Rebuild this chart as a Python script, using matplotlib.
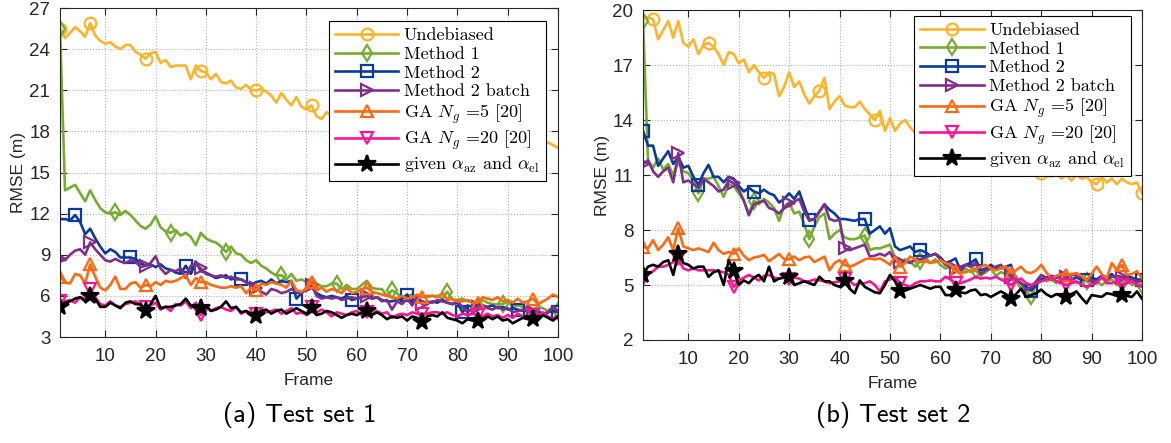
import matplotlib
matplotlib.use("Agg")
import matplotlib.pyplot as plt

plt.rcParams['mathtext.fontset'] = 'cm'
plt.rcParams['font.family'] = ['Liberation Sans', 'DejaVu Sans']

frames = list(range(1, 101))

labels = ["Undebiased", "Method 1", "Method 2", "Method 2 batch",
          r"GA $N_g$ =5 [20]", r"GA $N_g$ =20 [20]",
          r"given $\alpha_{\rm az}$ and $\alpha_{\rm el}$"]

# ---- test set 1
undeb_1 = [25.5, 24.8, 25.2, 25.6, 25.3, 24.9, 25.9, 25.0, 24.6, 24.4,
           24.5, 24.2, 24.0, 24.3, 24.3, 23.8, 23.6, 23.3, 23.7, 23.8,
           23.0, 23.2, 22.7, 22.8, 22.8, 22.8, 21.8, 22.8, 22.4, 22.3,
           21.8, 22.2, 21.6, 21.5, 21.7, 21.2, 21.1, 21.4, 21.0, 21.0,
           21.1, 20.9, 20.6, 20.1, 20.8, 20.3, 19.9, 20.5, 19.8, 19.6,
           19.9, 19.1, 18.9, 19.4, 19.1, 18.8, 19.0, 18.6, 18.9, 18.5,
           18.7, 18.4, 18.6, 18.2, 18.5, 18.1, 18.3, 18.0, 18.2, 17.8,
           18.1, 17.9, 17.7, 17.9, 17.6, 17.8, 17.5, 17.7, 17.4, 17.6,
           17.3, 17.5, 17.2, 17.4, 17.1, 17.3, 17.0, 17.2, 17.0, 17.1,
           16.9, 17.1, 16.8, 17.0, 16.9, 17.1, 16.9, 17.2, 17.0, 16.8]
m1_1 = [25.5, 13.7, 13.9, 14.1, 13.5, 12.9, 13.7, 13.0, 12.4, 12.1,
        12.0, 12.1, 11.9, 12.2, 11.9, 11.5, 11.1, 10.9, 11.2, 11.8,
        11.0, 10.7, 10.6, 10.8, 10.4, 10.6, 10.3, 9.7, 10.6, 10.2,
        10.0, 9.9, 9.6, 9.2, 9.6, 9.1, 9.0, 8.6, 8.4, 8.6,
        8.2, 8.0, 7.7, 7.5, 7.5, 7.2, 7.6, 7.1, 7.2, 7.0,
        7.3, 6.9, 6.7, 6.7, 6.9, 6.9, 6.5, 6.8, 6.5, 6.5,
        6.8, 7.1, 6.6, 6.5, 6.5, 6.0, 6.4, 6.2, 5.8, 6.0,
        6.1, 5.8, 6.0, 5.9, 6.0, 6.0, 5.8, 6.3, 5.7, 5.7,
        5.8, 5.6, 5.6, 5.5, 5.7, 5.5, 5.4, 5.4, 5.4, 5.6,
        5.2, 5.3, 5.2, 5.1, 5.0, 5.2, 5.1, 4.9, 5.2, 4.9]
m2_1 = [11.6, 11.6, 11.5, 11.9, 11.4, 10.5, 10.9, 10.2, 9.6, 9.1,
        9.4, 9.2, 8.8, 8.8, 8.8, 8.7, 8.4, 8.2, 8.3, 8.1,
        8.3, 8.0, 7.9, 7.7, 7.6, 8.2, 7.6, 8.5, 7.8, 7.7,
        7.5, 7.3, 7.4, 7.5, 7.2, 7.3, 7.2, 7.0, 6.8, 7.0,
        7.1, 6.9, 7.2, 6.9, 7.1, 7.0, 7.1, 5.8, 6.2, 6.5,
        6.7, 6.2, 6.0, 5.9, 6.0, 5.9, 5.8, 6.0, 5.7, 5.8,
        5.9, 6.0, 5.8, 5.9, 5.7, 5.6, 5.6, 5.7, 5.8, 6.1,
        5.5, 5.8, 5.6, 5.4, 5.6, 5.5, 5.7, 5.5, 5.4, 5.5,
        4.8, 5.3, 5.2, 5.4, 5.3, 5.2, 5.3, 5.1, 5.2, 5.0,
        5.1, 5.0, 4.9, 4.9, 4.8, 4.9, 4.7, 4.8, 4.9, 4.8]
m2b_1 = [8.7, 8.6, 9.0, 9.3, 9.4, 9.0, 9.9, 9.4, 9.0, 8.6,
         8.5, 8.7, 8.5, 8.4, 8.6, 8.5, 8.1, 8.2, 8.4, 8.9,
         8.0, 7.6, 7.9, 7.8, 8.0, 7.3, 8.2, 8.3, 8.0, 7.6,
         7.5, 7.4, 7.5, 7.3, 7.4, 7.2, 7.2, 7.0, 6.8, 6.6,
         6.3, 6.1, 6.5, 6.4, 6.2, 6.3, 6.5, 6.3, 6.2, 6.6,
         6.8, 6.0, 5.8, 5.9, 5.8, 5.9, 5.7, 5.8, 5.9, 5.8,
         5.9, 6.0, 5.8, 5.9, 5.6, 5.7, 5.0, 5.6, 5.4, 5.8,
         5.3, 5.9, 5.4, 5.6, 5.5, 5.7, 5.6, 5.5, 5.4, 5.6,
         5.2, 4.8, 5.1, 5.2, 5.3, 5.1, 5.0, 5.2, 5.0, 5.1,
         4.8, 4.9, 5.0, 4.9, 4.8, 4.7, 4.6, 4.8, 5.2, 4.9]
ga5_1 = [7.4, 7.0, 6.9, 7.6, 7.5, 6.9, 8.3, 7.4, 6.6, 6.4,
         6.8, 7.4, 6.5, 6.5, 6.9, 7.0, 6.6, 6.8, 6.7, 7.0,
         6.8, 7.1, 7.0, 7.1, 7.3, 7.5, 6.8, 7.3, 7.0, 7.0,
         6.8, 6.7, 6.6, 6.6, 6.7, 6.6, 6.7, 6.2, 6.6, 6.4,
         6.9, 6.8, 7.0, 6.9, 6.8, 6.6, 7.1, 6.4, 6.3, 6.5,
         7.0, 6.4, 6.6, 6.3, 6.5, 6.4, 6.2, 6.6, 6.2, 6.3,
         6.5, 6.6, 6.3, 6.2, 6.1, 6.0, 5.9, 5.8, 6.0, 5.8,
         5.9, 6.1, 5.9, 6.0, 6.0, 5.9, 6.2, 5.7, 5.8, 5.6,
         5.6, 5.7, 5.5, 5.5, 5.9, 5.8, 5.7, 5.9, 5.6, 5.7,
         5.5, 5.8, 5.5, 5.6, 5.8, 5.4, 5.6, 5.8, 6.1, 5.9]
ga20_1 = [5.6, 5.6, 5.7, 5.5, 5.9, 5.8, 6.5, 5.9, 5.4, 5.3,
          5.6, 5.3, 5.2, 5.4, 5.5, 5.6, 5.3, 5.2, 5.3, 5.5,
          5.0, 5.2, 4.9, 5.4, 5.3, 5.6, 5.1, 5.5, 4.6, 5.2,
          4.9, 5.1, 5.2, 5.0, 4.9, 5.2, 4.7, 4.9, 4.6, 4.7,
          5.0, 4.8, 4.9, 5.0, 4.7, 4.9, 5.1, 4.7, 4.8, 4.6,
          5.2, 4.8, 5.0, 4.8, 4.5, 4.8, 4.7, 4.6, 4.8, 4.9,
          4.6, 4.8, 4.7, 4.9, 4.7, 4.8, 4.4, 4.6, 4.7, 4.6,
          4.8, 4.7, 4.7, 4.7, 4.8, 4.8, 4.7, 4.8, 4.6, 4.5,
          4.7, 4.6, 4.7, 4.6, 4.5, 4.7, 4.5, 4.6, 4.4, 4.6,
          4.4, 4.7, 4.5, 4.4, 4.6, 4.5, 4.8, 4.5, 4.3, 4.6]
true_1 = [5.2, 5.5, 5.6, 5.8, 5.9, 5.6, 6.0, 5.8, 5.2, 5.2,
          5.5, 5.3, 5.1, 5.5, 5.6, 5.4, 5.4, 4.9, 5.4, 6.0,
          5.1, 5.2, 5.2, 5.3, 5.4, 5.8, 5.3, 5.1, 5.1, 5.3,
          4.9, 5.0, 5.2, 5.6, 5.1, 5.2, 4.8, 4.9, 4.7, 4.5,
          4.9, 5.0, 4.7, 4.9, 5.0, 4.7, 4.9, 5.1, 4.9, 4.7,
          5.1, 4.6, 4.7, 4.9, 4.8, 4.6, 4.4, 4.6, 4.7, 4.6,
          4.8, 4.9, 4.6, 4.8, 4.6, 4.3, 4.5, 4.4, 4.5, 4.2,
          4.5, 4.4, 4.1, 4.5, 4.6, 4.5, 4.8, 4.4, 4.3, 4.2,
          4.0, 4.3, 4.2, 4.2, 4.3, 4.5, 4.3, 4.5, 4.2, 4.3,
          4.0, 4.2, 4.4, 4.3, 4.3, 4.2, 4.6, 4.4, 4.2, 4.5]

# ---- test set 2
undeb_2 = [19.5, 19.6, 19.5, 18.4, 18.9, 19.4, 18.5, 19.4, 18.2, 18.0,
           18.4, 17.6, 18.1, 18.2, 18.0, 17.6, 17.0, 17.7, 17.6, 17.1,
           17.3, 16.6, 17.0, 16.6, 16.3, 16.6, 16.5, 15.3, 15.8, 16.6,
           15.8, 16.1, 15.4, 14.9, 15.3, 15.6, 16.3, 14.6, 15.0, 15.3,
           14.8, 14.7, 14.7, 15.0, 14.6, 14.3, 14.0, 14.5, 13.4, 14.1,
           13.4, 13.8, 14.0, 13.6, 13.3, 13.5, 13.1, 13.2, 12.9, 13.0,
           12.6, 12.9, 12.4, 12.6, 12.5, 12.1, 12.4, 12.0, 12.1, 11.8,
           12.0, 11.6, 11.8, 11.5, 11.6, 11.3, 11.5, 11.2, 11.4, 11.1,
           11.2, 10.9, 11.1, 10.8, 11.0, 10.7, 11.0, 10.8, 10.9, 10.6,
           10.5, 10.9, 10.6, 10.8, 10.5, 10.8, 10.6, 10.5, 10.6, 10.0]
m1_2 = [19.4, 11.8, 11.4, 11.9, 11.3, 11.6, 11.0, 11.7, 11.2, 11.1,
        10.7, 10.0, 10.8, 10.8, 10.9, 10.4, 9.8, 10.5, 10.4, 10.0,
        9.6, 8.9, 9.6, 9.4, 9.7, 9.5, 9.2, 8.5, 9.3, 9.5,
        8.9, 9.0, 8.3, 7.5, 8.2, 8.7, 8.9, 7.5, 7.8, 8.0,
        7.6, 7.5, 7.5, 7.6, 7.7, 6.9, 7.0, 7.0, 7.1, 7.2,
        6.5, 6.2, 6.4, 6.3, 6.0, 6.3, 6.5, 6.2, 6.4, 6.1,
        5.9, 6.0, 5.8, 5.6, 5.9, 5.7, 5.8, 5.5, 5.7, 5.9,
        5.5, 5.7, 5.6, 5.3, 5.2, 4.8, 4.6, 4.4, 5.0, 5.5,
        5.2, 5.3, 5.1, 5.4, 5.2, 5.3, 5.1, 5.2, 5.2, 5.0,
        5.2, 5.0, 5.2, 5.3, 5.0, 5.1, 5.3, 5.0, 5.1, 5.0]
m2_2 = [13.4, 12.6, 12.6, 11.5, 11.9, 12.3, 11.6, 12.0, 11.4, 11.5,
        10.9, 10.45, 11.1, 11.55, 10.9, 10.9, 10.6, 10.9, 10.8, 10.4,
        10.1, 10.3, 10.1, 10.0, 10.2, 10.0, 9.9, 9.5, 9.7, 10.0,
        9.7, 10.1, 9.3, 8.55, 8.6, 9.0, 9.4, 9.1, 8.9, 8.6,
        8.6, 8.55, 8.5, 8.6, 8.6, 7.8, 8.0, 8.2, 7.8, 8.1,
        7.1, 6.9, 7.0, 7.1, 6.8, 6.9, 6.8, 6.6, 6.7, 6.5,
        6.2, 6.3, 6.45, 5.8, 6.1, 6.2, 6.4, 5.8, 5.9, 6.1,
        5.9, 5.9, 6.0, 6.1, 5.3, 5.1, 4.9, 4.7, 5.0, 5.3,
        5.4, 5.5, 5.4, 5.5, 5.5, 5.3, 5.4, 5.3, 5.3, 5.4,
        5.3, 5.5, 5.4, 5.6, 5.3, 5.4, 5.5, 5.4, 5.3, 5.3]
m2b_2 = [11.6, 11.8, 11.2, 10.9, 11.2, 11.4, 10.6, 12.2, 10.6, 10.7,
         10.5, 10.3, 10.8, 10.6, 10.4, 10.1, 10.2, 10.7, 10.55, 10.2,
         9.6, 8.8, 9.4, 9.5, 9.6, 9.2, 9.1, 8.9, 9.2, 9.45,
         9.55, 9.7, 9.0, 8.5, 8.6, 9.0, 9.4, 8.6, 8.5, 8.55,
         7.0, 6.9, 7.0, 7.1, 7.2, 6.55, 6.6, 6.7, 6.6, 6.8,
         6.3, 6.25, 6.3, 6.2, 6.4, 6.4, 6.5, 6.6, 6.7, 6.4,
         6.1, 6.0, 5.9, 6.0, 6.1, 6.0, 6.2, 5.6, 5.8, 5.9,
         6.0, 6.1, 5.8, 5.45, 5.3, 5.1, 4.7, 4.9, 5.2, 5.55,
         5.4, 5.3, 5.4, 5.5, 5.45, 5.6, 5.5, 5.4, 5.3, 5.2,
         5.2, 5.4, 5.3, 5.45, 5.5, 5.45, 5.3, 5.3, 5.2, 5.2]
ga5_2 = [7.1, 7.0, 7.45, 6.9, 7.2, 7.6, 6.9, 8.1, 7.1, 7.0,
         6.9, 7.0, 6.9, 6.8, 7.3, 6.9, 6.7, 6.8, 6.7, 7.0,
         6.6, 6.35, 6.5, 6.55, 6.65, 6.3, 6.5, 6.7, 6.4, 6.4,
         6.55, 6.35, 6.5, 6.55, 6.25, 6.4, 6.55, 5.8, 6.2, 6.35,
         6.1, 6.0, 6.1, 6.25, 6.4, 6.45, 6.4, 6.45, 6.3, 6.1,
         6.55, 6.0, 6.2, 6.55, 6.4, 6.25, 6.3, 6.2, 6.25, 6.35,
         6.2, 6.1, 5.75, 5.65, 5.7, 5.8, 5.9, 6.0, 6.1, 5.9,
         5.8, 5.9, 6.0, 5.65, 5.8, 6.0, 5.7, 5.65, 5.8, 6.1,
         5.7, 5.35, 5.5, 5.6, 5.55, 5.6, 5.65, 5.5, 5.25, 5.6,
         6.0, 5.6, 5.35, 6.2, 5.8, 6.1, 5.55, 5.6, 5.75, 5.35]
ga20_2 = [5.35, 5.6, 5.75, 6.0, 6.0, 6.1, 6.25, 6.4, 5.9, 5.8,
          5.9, 5.8, 5.8, 5.8, 5.8, 5.75, 5.7, 5.55, 4.9, 5.25,
          5.4, 5.55, 5.4, 5.25, 5.5, 5.55, 5.4, 5.35, 5.45, 5.35,
          5.4, 5.35, 5.2, 5.2, 5.3, 5.25, 5.2, 5.1, 5.15, 5.2,
          5.35, 5.2, 5.0, 5.1, 5.1, 5.2, 5.0, 4.65, 5.2, 5.3,
          5.45, 5.1, 5.0, 4.9, 5.1, 5.2, 5.2, 5.25, 5.2, 5.2,
          5.45, 5.3, 5.1, 5.1, 5.2, 5.3, 5.45, 5.35, 5.4, 5.35,
          5.45, 5.3, 5.2, 5.0, 5.2, 5.35, 5.1, 5.0, 5.1, 5.2,
          5.3, 5.45, 5.2, 5.1, 5.0, 5.1, 5.2, 5.0, 4.9, 5.0,
          5.1, 5.45, 5.1, 5.1, 5.2, 5.0, 5.1, 5.2, 5.0, 4.9]
true_2 = [5.55, 6.0, 6.1, 6.0, 6.25, 6.35, 5.55, 6.7, 6.2, 6.1,
          5.9, 6.0, 6.0, 5.45, 5.7, 5.8, 5.0, 6.35, 5.75, 5.0,
          5.25, 5.1, 5.4, 5.55, 5.2, 6.0, 5.2, 5.35, 5.4, 5.45,
          5.0, 5.1, 5.2, 5.1, 5.0, 5.45, 5.2, 5.2, 5.0, 4.9,
          5.2, 4.8, 4.55, 5.25, 4.9, 4.75, 4.6, 4.55, 5.0, 5.55,
          5.2, 4.65, 4.7, 4.8, 4.9, 5.0, 4.9, 4.8, 4.9, 4.9,
          4.45, 4.45, 4.75, 4.6, 4.55, 4.7, 4.75, 4.45, 4.5, 4.35,
          4.5, 4.65, 4.5, 4.25, 4.5, 4.8, 4.35, 4.45, 4.55, 4.75,
          4.5, 4.35, 4.5, 4.45, 4.35, 4.5, 4.65, 4.3, 4.0, 4.45,
          4.4, 4.35, 4.55, 4.5, 4.4, 4.45, 4.4, 4.35, 4.65, 4.25]

colors = ["#FDB42A", "#77AC30", "#0A3A9E", "#7E2F8E", "#FF6A10", "#FF1493", "black"]
markers = ["o", "d", "s", ">", "^", "v", "*"]

# marker frames (1-based)
marks_1 = [[1, 7, 18, 29, 40, 51, 62, 73, 84, 95],
           [1, 12, 23, 34, 45, 56, 67, 78, 89, 100],
           [4, 15, 26, 37, 48, 59, 70, 81, 92, 100],
           [1, 7, 18, 29, 40, 51, 62, 73, 84, 95],
           [1, 7, 18, 29, 40, 51, 62, 73, 84, 95],
           [1, 7, 18, 29, 40, 51, 62, 73, 84, 95],
           [1, 7, 18, 29, 40, 51, 62, 73, 84, 95]]
marks_2 = [[3, 14, 25, 36, 47, 58, 69, 80, 91, 100],
           [1, 12, 23, 34, 45, 56, 67, 78, 89, 100],
           [1, 12, 23, 34, 45, 56, 67, 78, 89, 100],
           [1, 8, 19, 30, 41, 52, 63, 74, 85, 96],
           [1, 8, 19, 30, 41, 52, 63, 74, 85, 96],
           [1, 8, 19, 30, 41, 52, 63, 74, 85, 96],
           [1, 8, 19, 30, 41, 52, 63, 74, 85, 96]]

W, H = 1171, 443
fig = plt.figure(figsize=(W / 100, H / 100), dpi=100)


def draw(ax, series, marks, yticks, leg_anchor):
    for k, ys in enumerate(series):
        ms = 13 if markers[k] == "*" else 8.5
        ax.plot(frames, ys, color=colors[k], linewidth=1.9, marker=markers[k],
                markersize=ms, markeredgewidth=1.6,
                markerfacecolor=("black" if markers[k] == "*" else "none"),
                markevery=[m - 1 for m in marks[k]], label=labels[k])
    ax.set_xlim(1, 100)
    ax.set_ylim(yticks[0], yticks[-1])
    ax.set_xticks(range(10, 101, 10))
    ax.set_yticks(yticks)
    ax.grid(True, linestyle=":", color="#b0b0b0", linewidth=0.8)
    ax.tick_params(direction="in", top=True, right=True, labelsize=13.5,
                   colors="#262626", length=5)
    ax.tick_params(axis="x", pad=8)
    ax.tick_params(axis="y", pad=7)
    for s in ax.spines.values():
        s.set_color("#262626")
        s.set_linewidth(0.8)
    ax.set_xlabel("Frame", fontsize=12.5, color="#262626", labelpad=6)
    ax.set_ylabel("RMSE (m)", fontsize=12.5, color="#262626", labelpad=2)
    leg = ax.legend(loc="upper right", bbox_to_anchor=leg_anchor, borderaxespad=0,
                    prop={"family": ["cmr10", "DejaVu Serif"], "size": 13},
                    fancybox=False, edgecolor="black", framealpha=1,
                    handlelength=3.5, labelspacing=0.17, borderpad=0.35,
                    handletextpad=0.3)
    leg.get_frame().set_linewidth(0.8)


ax1 = fig.add_axes([60 / W, 1 - 337 / H, 498 / W, 329 / H])
draw(ax1, [undeb_1, m1_1, m2_1, m2b_1, ga5_1, ga20_1, true_1], marks_1,
     [3, 6, 9, 12, 15, 18, 21, 24, 27], (0.975, 0.96))

ax2 = fig.add_axes([643 / W, 1 - 340 / H, 499 / W, 330 / H])
draw(ax2, [undeb_2, m1_2, m2_2, m2b_2, ga5_2, ga20_2, true_2], marks_2,
     [2, 5, 8, 11, 14, 17, 20], (0.978, 0.982))

cap = {"family": ["cmss10", "DejaVu Sans"], "size": 19}
fig.text(300 / W, 1 - 415 / H, "(a) Test set 1", fontdict=cap, ha="center", va="center")
fig.text(893 / W, 1 - 415 / H, "(b) Test set 2", fontdict=cap, ha="center", va="center")

fig.savefig("out.png", dpi=100)
